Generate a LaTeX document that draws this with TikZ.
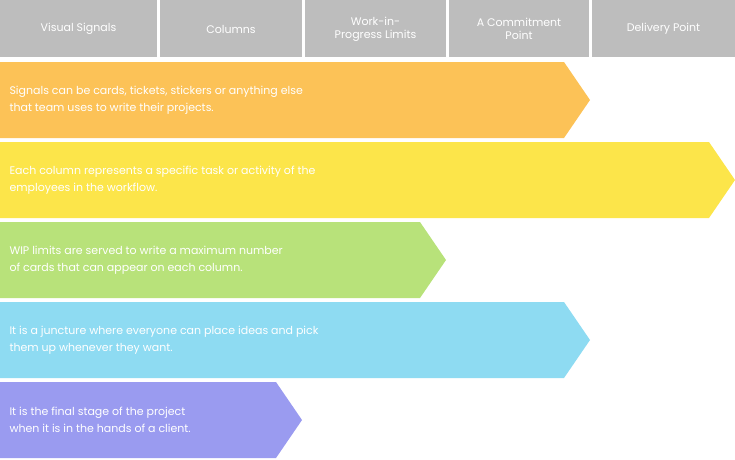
\documentclass[tikz,border=0pt]{standalone}
\usepackage{fontspec}
\setmainfont{Poppins}
\begin{document}
\begin{tikzpicture}[x=1pt,y=-1pt,
  hdr/.style={fill=gray!55, draw=none},
  htxt/.style={text=white, font=\fontsize{11}{13}\selectfont, align=center},
  btxt/.style={text=white, font=\fontsize{11}{17}\selectfont, align=left, anchor=west}]
\useasboundingbox (0,0) rectangle (735,459);
\definecolor{c1}{HTML}{FCC257}\definecolor{c2}{HTML}{FCE54A}\definecolor{c3}{HTML}{B8E27A}
\definecolor{c4}{HTML}{8EDBF2}\definecolor{c5}{HTML}{9A9BF0}\definecolor{hg}{HTML}{BDBDBD}
\foreach \a/\b/\t [count=\i] in {0/157/Visual Signals,160/302/Columns,305/446/{Work-in-\\Progress Limits},449/589/{A Commitment\\Point},592/735/Delivery Point}{
  \fill[hg] (\a,0) rectangle (\b,57);
  \node[htxt] (h\i) at ({(\a+\b)/2},29) {\t};
}
\foreach \y/\e/\c/\t [count=\i] in {
 62/590/c1/{Signals can be cards, tickets, stickers or anything else\\that team uses to write their projects.},
 142/735/c2/{Each column represents a specific task or activity of the\\employees in the workflow.},
 222/446/c3/{WIP limits are served to write a maximum number\\of cards that can appear on each column.},
 302/590/c4/{It is a juncture where everyone can place ideas and pick\\them up whenever they want.},
 382/302/c5/{It is the final stage of the project\\when it is in the hands of a client.}}{
  \fill[\c] (0,\y) -- (\e-26,\y) -- (\e,\y+38) -- (\e-26,\y+76) -- (0,\y+76) -- cycle;
  \node[btxt] (r\i) at (6,\y+38) {\t};
}
\end{tikzpicture}
\end{document}
